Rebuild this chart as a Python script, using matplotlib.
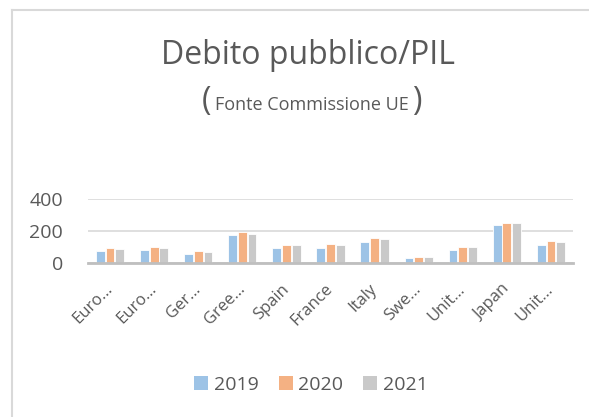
import matplotlib
matplotlib.use("Agg")
import matplotlib.pyplot as plt
import numpy as np
from matplotlib.lines import Line2D
from matplotlib.patches import Patch

categories = ["Euro…", "Euro…", "Ger…", "Gree…", "Spain", "France", "Italy",
              "Swe…", "Unit…", "Japan", "Unit…"]
years = ["2019", "2020", "2021"]
v2019 = [78, 84, 59, 176, 94, 96, 132, 34, 84, 237, 111]
v2020 = [94, 100, 75, 195, 115, 117, 157, 40, 100, 253, 136]
v2021 = [90, 96, 71, 182, 111, 111, 153, 40, 100, 251, 134]
series = [v2019, v2020, v2021]
colors = ["#9DC3E6", "#F4B183", "#C9C9C9"]
yticks = [0, 200, 400]

TXT = "#595959"
plt.rcParams['font.family'] = ['Open Sans', 'DejaVu Sans']

W, H = 589, 417
fig = plt.figure(figsize=(W / 100, H / 100), dpi=100)
fig.patch.set_facecolor("white")

ax = fig.add_axes([88 / W, 1 - 263 / H, (573 - 88) / W, (263 - 199) / H])
x = np.arange(len(categories))
bw = 0.2
step = 0.22
for k, (vals, c) in enumerate(zip(series, colors)):
    ax.bar(x + (k - 1) * step, vals, width=bw, color=c, edgecolor="white",
           linewidth=0.6, label=years[k], zorder=3)

ax.set_xlim(-0.5, len(categories) - 0.5)
ax.set_ylim(0, 400)
ax.set_yticks(yticks)
ax.set_yticklabels([str(t) for t in yticks], fontsize=14, color=TXT)
ax.grid(axis="y", color="#D9D9D9", linewidth=1.2, zorder=0)
ax.set_axisbelow(True)
for s in ["top", "right", "left"]:
    ax.spines[s].set_visible(False)
ax.spines["bottom"].set_color("#BFBFBF")
ax.spines["bottom"].set_linewidth(2)
ax.spines["bottom"].set_zorder(4)
ax.tick_params(axis="both", length=0)
ax.tick_params(axis="y", pad=18)
ax.set_xticks(x)
ax.set_xticklabels(categories, fontsize=12, color=TXT, rotation=45,
                   ha="right", va="center", rotation_mode="anchor")
ax.tick_params(axis="x", pad=17)

# Titles
fig.text(308 / W, 1 - 64 / H, "Debito pubblico/PIL", fontsize=23, color=TXT,
         ha="center", va="baseline")
yb = 1 - 110 / H
fig.text(311.5 / W, yb, "Fonte Commissione UE", fontsize=13, color=TXT,
         ha="center", va="baseline")
fig.text(211 / W, yb, "(", fontsize=23, color=TXT, ha="right", va="baseline")
fig.text(412 / W, yb, ")", fontsize=23, color=TXT, ha="left", va="baseline")

# Legend
handles = [Patch(facecolor=c, edgecolor="none") for c in colors]
fig.legend(handles, years, loc="center", bbox_to_anchor=(311 / W, 1 - 385 / H),
           ncol=3, frameon=False, fontsize=14, labelcolor=TXT,
           handlelength=0.72, handleheight=0.72, handletextpad=0.3,
           columnspacing=1.0)

# Chart border (top and left visible)
fig.add_artist(Line2D([12 / W, 1], [1 - 9.8 / H, 1 - 9.8 / H], color="#D9D9D9",
                      linewidth=1.5, transform=fig.transFigure))
fig.add_artist(Line2D([12 / W, 12 / W], [0, 1 - 9.8 / H], color="#D9D9D9",
                      linewidth=1.5, transform=fig.transFigure))

fig.savefig("out.png", dpi=100)
